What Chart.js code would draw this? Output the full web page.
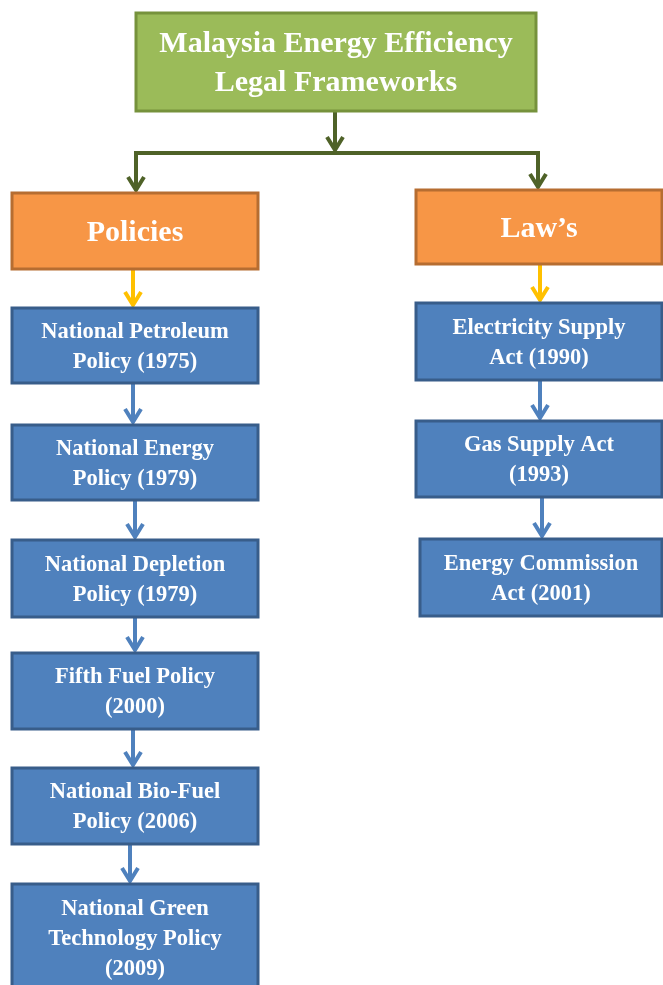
<!DOCTYPE html>
<html>
<head>
<meta charset="utf-8">
<script src="https://cdn.jsdelivr.net/npm/chart.js@4/dist/chart.umd.min.js"></script>
<style>
html,body{margin:0;padding:0;background:#fff;overflow:hidden;}
canvas{display:block;}
</style>
</head>
<body>
<canvas id="c" width="663" height="985"></canvas>
<script>
// ---- Content (labels and structure) ----
const rootTitle = ["Malaysia Energy Efficiency", "Legal Frameworks"];
const branchLabels = ["Policies", "Law\u2019s"];
const policyLabels = [
  ["National Petroleum", "Policy (1975)"],
  ["National Energy", "Policy (1979)"],
  ["National Depletion", "Policy (1979)"],
  ["Fifth Fuel Policy", "(2000)"],
  ["National Bio-Fuel", "Policy (2006)"],
  ["National Green", "Technology Policy", "(2009)"]
];
const lawLabels = [
  ["Electricity Supply", "Act (1990)"],
  ["Gas Supply Act", "(1993)"],
  ["Energy Commission", "Act (2001)"]
];

// ---- Layout in axis units (x: 0..663, y: 0..985 top-down) ----
const rootBox = [136, 13, 536, 111];
const branchBoxes = [[12, 193, 258, 269], [416, 190, 662, 264]];
const policyBoxes = [
  [12, 308, 258, 383], [12, 425, 258, 500], [12, 540, 258, 617],
  [12, 653, 258, 729], [12, 768, 258, 844], [12, 884, 258, 992]
];
const lawBoxes = [[416, 303, 662, 380], [416, 421, 662, 497], [420, 539, 662, 616]];
const policyArrowX = [133, 135, 135, 133, 130];
const lawArrowX = [540, 542];

const styles = {
  root: {fill: '#9BBB59', stroke: '#76923C', font: 30, lh: 39},
  branch: {fill: '#F79646', stroke: '#B66D31', font: 30, lh: 36},
  leaf: {fill: '#4F81BD', stroke: '#385D8A', font: 22.5, lh: 30}
};

const diagramPlugin = {
  id: 'diagram',
  afterDatasetsDraw(chart) {
    const ctx = chart.ctx;
    const sx = chart.scales.x, sy = chart.scales.y;
    const X = v => sx.getPixelForValue(v);
    const Y = v => sy.getPixelForValue(v);

    function line(x1, y1, x2, y2, color) {
      ctx.save();
      ctx.strokeStyle = color; ctx.lineWidth = 4; ctx.lineCap = 'butt';
      ctx.beginPath(); ctx.moveTo(X(x1), Y(y1)); ctx.lineTo(X(x2), Y(y2)); ctx.stroke();
      ctx.restore();
    }
    function arrow(x, y1, y2, color) {
      ctx.save();
      ctx.strokeStyle = color; ctx.lineWidth = 4; ctx.lineCap = 'butt'; ctx.lineJoin = 'miter';
      ctx.beginPath(); ctx.moveTo(X(x), Y(y1)); ctx.lineTo(X(x), Y(y2) - 3); ctx.stroke();
      ctx.beginPath();
      ctx.moveTo(X(x - 8), Y(y2 - 16));
      ctx.lineTo(X(x), Y(y2) - 3);
      ctx.lineTo(X(x + 8), Y(y2 - 16));
      ctx.stroke();
      ctx.restore();
    }
    function box(r, lines, st) {
      const x1 = X(r[0]), y1 = Y(r[1]), x2 = X(r[2]), y2 = Y(r[3]);
      ctx.save();
      ctx.fillStyle = st.fill;
      ctx.fillRect(x1, y1, x2 - x1, y2 - y1);
      ctx.strokeStyle = st.stroke; ctx.lineWidth = 3;
      ctx.strokeRect(x1, y1, x2 - x1, y2 - y1);
      ctx.fillStyle = '#ffffff';
      ctx.font = 'bold ' + st.font + 'px "Liberation Serif", "Times New Roman", serif';
      ctx.textAlign = 'center'; ctx.textBaseline = 'alphabetic';
      const cx = (x1 + x2) / 2, cy = (y1 + y2) / 2;
      const cap = st.font * 0.662;
      const n = lines.length;
      lines.forEach((t, i) => {
        ctx.fillText(t, cx, cy + (i - (n - 1) / 2) * st.lh + cap / 2);
      });
      ctx.restore();
    }

    // connectors
    const green = '#4F6228', yellow = '#FFC000', blue = '#4F81BD';
    arrow(335, rootBox[3], 153, green);
    line(134, 153, 540, 153, green);
    arrow(136, 151, branchBoxes[0][1], green);
    arrow(538, 151, branchBoxes[1][1], green);
    arrow(133, branchBoxes[0][3], policyBoxes[0][1], yellow);
    arrow(540, branchBoxes[1][3], lawBoxes[0][1], yellow);
    policyArrowX.forEach((x, i) => arrow(x, policyBoxes[i][3], policyBoxes[i + 1][1], blue));
    lawArrowX.forEach((x, i) => arrow(x, lawBoxes[i][3], lawBoxes[i + 1][1], blue));

    // boxes
    box(rootBox, rootTitle, styles.root);
    branchBoxes.forEach((r, i) => box(r, [branchLabels[i]], styles.branch));
    policyBoxes.forEach((r, i) => box(r, policyLabels[i], styles.leaf));
    lawBoxes.forEach((r, i) => box(r, lawLabels[i], styles.leaf));
  }
};

const nodeCenters = [rootBox].concat(branchBoxes, policyBoxes, lawBoxes)
  .map(r => ({x: (r[0] + r[2]) / 2, y: (r[1] + r[3]) / 2}));

new Chart(document.getElementById('c'), {
  type: 'scatter',
  data: {datasets: [{data: nodeCenters, pointRadius: 0, pointHoverRadius: 0}]},
  options: {
    responsive: false,
    animation: false,
    events: [],
    layout: {padding: 0},
    plugins: {legend: {display: false}, tooltip: {enabled: false}},
    scales: {
      x: {type: 'linear', min: 0, max: 663, display: false},
      y: {type: 'linear', min: 0, max: 985, reverse: true, display: false}
    }
  },
  plugins: [diagramPlugin]
});
</script>
</body>
</html>
